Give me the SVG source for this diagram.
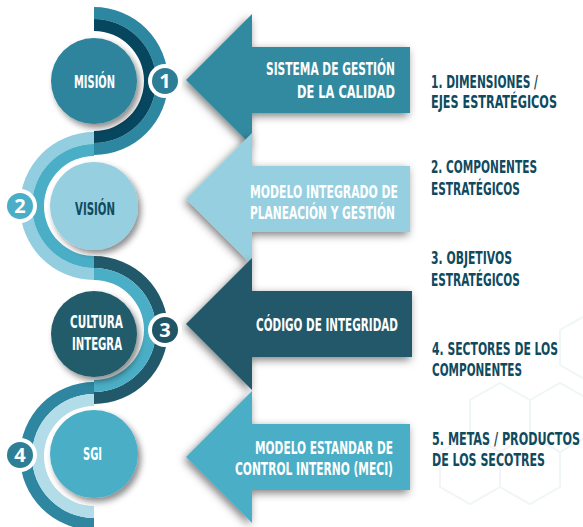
<svg xmlns="http://www.w3.org/2000/svg" width="583" height="527" viewBox="0 0 583 527">
<defs>
<filter id="sh" x="-30%" y="-30%" width="160%" height="160%"><feDropShadow dx="3" dy="4" stdDeviation="3" flood-color="#000" flood-opacity="0.45"/></filter>
<filter id="ash" x="-20%" y="-20%" width="140%" height="140%"><feDropShadow dx="-2" dy="3" stdDeviation="4" flood-color="#000" flood-opacity="0.5"/></filter>
<style>
.t{font-family:"DejaVu Sans Condensed","DejaVu Sans",sans-serif;font-weight:bold;font-size:18px;}
.s{font-size:17px;}
.w{fill:#ffffff;}
.d{fill:#0f4a5e;}
.n{font-family:"Open Sans","DejaVu Sans",sans-serif;font-weight:bold;font-size:20px;fill:#fff;text-anchor:middle;}
.hex{fill:none;stroke:#f0f5f7;stroke-width:2;}
</style>
</defs>
<rect width="583" height="527" fill="#ffffff"/>
<g id="background">
<path class="hex" d="M470 400 L500 383 L530 400 L530 435 L500 452 L470 435 Z"/>
<path class="hex" d="M530 400 L560 383 L590 400 L590 435 L560 452 L530 435 Z"/>
<path class="hex" d="M500 452 L530 435 L560 452 L560 487 L530 504 L500 487 Z"/>
<path class="hex" d="M440 452 L470 435 L500 452 L500 487 L470 504 L440 487 Z"/>
<path class="hex" d="M560 330 L590 313 L620 330 L620 365 L590 382 L560 365 Z"/>
</g>
<g id="rings">
<path d="M94 7 A74 74 0 0 1 94 155 L94 143 A62 62 0 0 0 94 19 Z" fill="#2e87a0"/>
<path d="M94 19 A62 62 0 0 1 94 143 L94 131 A50 50 0 0 0 94 31 Z" fill="#07465f"/>
<path d="M94 132 A74 74 0 0 0 94 280 L94 268 A62 62 0 0 1 94 144 Z" fill="#93cde0"/>
<path d="M94 144 A62 62 0 0 0 94 268 L94 256 A50 50 0 0 1 94 156 Z" fill="#4aaec6"/>
<path d="M94 256 A74 74 0 0 1 94 404 L94 392 A62 62 0 0 0 94 268 Z" fill="#22596a"/>
<path d="M94 268 A62 62 0 0 1 94 392 L94 380 A50 50 0 0 0 94 280 Z" fill="#4aaec6"/>
<path d="M94 382 A74 74 0 0 0 94 530 L94 518 A62 62 0 0 1 94 394 Z" fill="#2e86a0"/>
<path d="M94 394 A62 62 0 0 0 94 518 L94 506 A50 50 0 0 1 94 406 Z" fill="#b3dce9"/>
</g>
<g id="connectors">
<path d="M186 80 L252 14 L252 47 L410 47 L410 113 L252 113 L252 146 Z" fill="#318aa0" filter="url(#ash)"/>
<path d="M186 199 L252 133 L252 166 L410 166 L410 232 L252 232 L252 265 Z" fill="#95cfe0" filter="url(#ash)"/>
<path d="M186 324 L252 258 L252 291 L412 291 L412 357 L252 357 L252 390 Z" fill="#22586a" filter="url(#ash)"/>
<path d="M186 457 L252 391 L252 424 L410 424 L410 490 L252 490 L252 523 Z" fill="#4aaec6" filter="url(#ash)"/>
</g>
<g id="n-mision">
<circle cx="94" cy="81" r="43" fill="#2f849c" filter="url(#sh)"/>
<text class="t w" x="74" y="88" textLength="41" lengthAdjust="spacingAndGlyphs">MISIÓN</text>
</g>
<g id="n-vision">
<circle cx="94" cy="206" r="44" fill="#96cfe0" filter="url(#sh)"/>
<text class="t d" x="75" y="215" textLength="40" lengthAdjust="spacingAndGlyphs">VISIÓN</text>
</g>
<g id="n-cultura">
<circle cx="94" cy="334" r="43" fill="#235b6b" filter="url(#sh)"/>
<text class="t w" x="70" y="328" textLength="53" lengthAdjust="spacingAndGlyphs">CULTURA</text>
<text class="t w" x="72" y="350" textLength="50" lengthAdjust="spacingAndGlyphs">INTEGRA</text>
</g>
<g id="n-sgi">
<circle cx="94" cy="454" r="44" fill="#4aaec6" filter="url(#sh)"/>
<text class="t w" x="83" y="460" textLength="19" lengthAdjust="spacingAndGlyphs">SGI</text>
</g>
<g id="b1"><circle cx="165" cy="81" r="17" fill="#fff"/><circle cx="165" cy="81" r="13" fill="#2e7d96"/><text class="n" x="165" y="88">1</text></g>
<g id="b2"><circle cx="20" cy="206" r="17" fill="#fff"/><circle cx="20" cy="206" r="13" fill="#4aaec6"/><text class="n" x="20" y="213">2</text></g>
<g id="b3"><circle cx="165" cy="330" r="17" fill="#fff"/><circle cx="165" cy="330" r="13" fill="#1f5566"/><text class="n" x="165" y="337">3</text></g>
<g id="b4"><circle cx="20" cy="455" r="17" fill="#fff"/><circle cx="20" cy="455" r="13" fill="#2e7f96"/><text class="n" x="20" y="462">4</text></g>
<g id="a1-text">
<text class="t w" x="266" y="75" textLength="129" lengthAdjust="spacingAndGlyphs">SISTEMA DE GESTIÓN</text>
<text class="t w" x="297" y="98" textLength="98" lengthAdjust="spacingAndGlyphs">DE LA CALIDAD</text>
</g>
<g id="a2-text">
<text class="t w" x="250" y="198" textLength="148" lengthAdjust="spacingAndGlyphs">MODELO INTEGRADO DE</text>
<text class="t w" x="250" y="219" textLength="145" lengthAdjust="spacingAndGlyphs">PLANEACIÓN Y GESTIÓN</text>
</g>
<g id="a3-text">
<text class="t w" x="256" y="331" textLength="142" lengthAdjust="spacingAndGlyphs">CÓDIGO DE INTEGRIDAD</text>
</g>
<g id="a4-text">
<text class="t w" x="255" y="454" textLength="138" lengthAdjust="spacingAndGlyphs">MODELO ESTANDAR DE</text>
<text class="t w" x="235" y="475" textLength="158" lengthAdjust="spacingAndGlyphs">CONTROL INTERNO (MECI)</text>
</g>
<g id="list">
<text class="t s d" x="431" y="88" textLength="107" lengthAdjust="spacingAndGlyphs">1. DIMENSIONES /</text>
<text class="t s d" x="431" y="108" textLength="126" lengthAdjust="spacingAndGlyphs">EJES ESTRATÉGICOS</text>
<text class="t s d" x="431" y="173" textLength="106" lengthAdjust="spacingAndGlyphs">2. COMPONENTES</text>
<text class="t s d" x="431" y="195" textLength="89" lengthAdjust="spacingAndGlyphs">ESTRATÉGICOS</text>
<text class="t s d" x="431" y="264" textLength="81" lengthAdjust="spacingAndGlyphs">3. OBJETIVOS</text>
<text class="t s d" x="431" y="286" textLength="89" lengthAdjust="spacingAndGlyphs">ESTRATÉGICOS</text>
<text class="t s d" x="432" y="355" textLength="126" lengthAdjust="spacingAndGlyphs">4. SECTORES DE LOS</text>
<text class="t s d" x="432" y="376" textLength="90" lengthAdjust="spacingAndGlyphs">COMPONENTES</text>
<text class="t s d" x="432" y="445" textLength="148" lengthAdjust="spacingAndGlyphs">5. METAS / PRODUCTOS</text>
<text class="t s d" x="432" y="466" textLength="113" lengthAdjust="spacingAndGlyphs">DE LOS SECOTRES</text>
</g>
</svg>
